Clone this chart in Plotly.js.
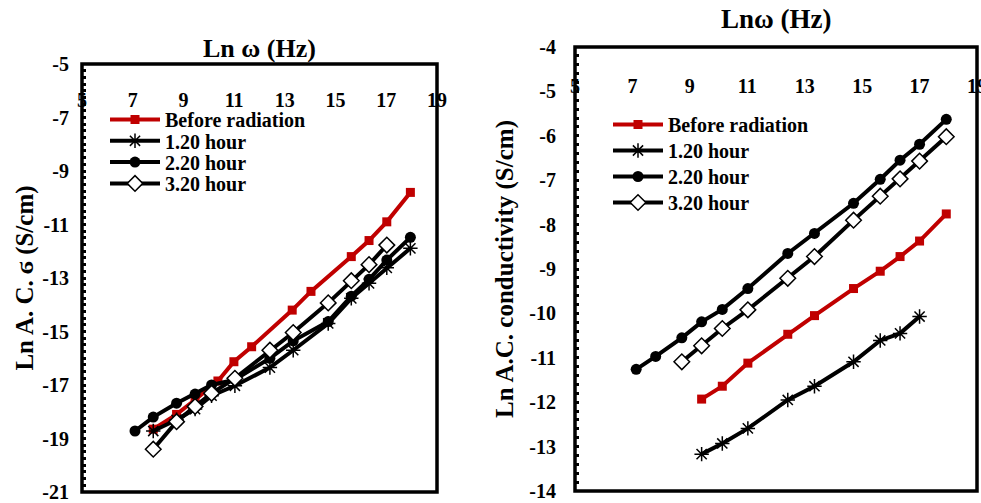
<!DOCTYPE html>
<html>
<head>
<meta charset="utf-8">
<script src="https://cdn.plot.ly/plotly-3.0.1.min.js"></script>
<style>html,body{margin:0;padding:0;background:#fff;}#chart{width:981px;height:503px;}</style>
</head>
<body>
<div id="chart"></div>
<script>
// ---- Data ----
const seriesNames = ["Before radiation", "1.20 hour", "2.20 hour", "3.20 hour"];

// Left chart: Ln A.C. σ vs Ln ω
const leftBeforeX = [7.81, 8.73, 9.46, 10.36, 10.99, 11.69, 13.29, 14.03, 15.62, 16.32, 17.02, 17.95];
const leftBeforeY = [-18.65, -18.1, -17.55, -16.85, -16.13, -15.57, -14.2, -13.5, -12.2, -11.6, -10.9, -9.8];
const left120X = [7.81, 8.73, 9.46, 10.11, 11.03, 12.41, 13.33, 14.71, 15.62, 16.32, 17.02, 17.95];
const left120Y = [-18.72, -18.3, -17.9, -17.4, -17.03, -16.35, -15.7, -14.7, -13.76, -13.2, -12.62, -11.89];
const left220X = [7.09, 7.81, 8.73, 9.46, 10.11, 11.03, 12.41, 13.33, 14.71, 15.62, 16.32, 17.02, 17.95];
const left220Y = [-18.72, -18.2, -17.68, -17.34, -17.0, -16.8, -16.0, -15.35, -14.63, -13.68, -13.05, -12.33, -11.48];
const left320X = [7.81, 8.73, 9.46, 10.11, 11.03, 12.41, 13.33, 14.71, 15.62, 16.32, 17.02];
const left320Y = [-19.4, -18.37, -17.8, -17.31, -16.75, -15.7, -15.04, -13.93, -13.1, -12.5, -11.77];

// Right chart: Ln A.C. conductivity vs Ln ω
const rightBeforeX = [9.41, 10.13, 11.02, 12.41, 13.34, 14.7, 15.63, 16.32, 17.0, 17.93];
const rightBeforeY = [-11.93, -11.64, -11.12, -10.47, -10.05, -9.44, -9.05, -8.72, -8.37, -7.76];
const right120X = [9.41, 10.13, 11.02, 12.41, 13.34, 14.7, 15.63, 16.32, 17.0];
const right120Y = [-13.17, -12.93, -12.59, -11.95, -11.64, -11.09, -10.61, -10.45, -10.07];
const right220X = [7.13, 7.81, 8.72, 9.41, 10.13, 11.02, 12.41, 13.34, 14.7, 15.63, 16.32, 17.0, 17.93];
const right220Y = [-11.26, -10.97, -10.55, -10.19, -9.91, -9.44, -8.65, -8.2, -7.52, -6.98, -6.55, -6.19, -5.63];
const right320X = [8.72, 9.41, 10.13, 11.02, 12.41, 13.34, 14.7, 15.63, 16.32, 17.0, 17.93];
const right320Y = [-11.09, -10.73, -10.34, -9.92, -9.21, -8.72, -7.9, -7.36, -6.97, -6.57, -6.02];

// Tick values and labels
const xTickVals = [5, 7, 9, 11, 13, 15, 17, 19];
const xTickText = ["5", "7", "9", "11", "13", "15", "17", "19"];
const leftYTickVals = [-21, -19, -17, -15, -13, -11, -9, -7, -5];
const leftYTickText = ["-21", "-19", "-17", "-15", "-13", "-11", "-9", "-7", "-5"];
const rightYTickVals = [-14, -13, -12, -11, -10, -9, -8, -7, -6, -5, -4];
const rightYTickText = ["-14", "-13", "-12", "-11", "-10", "-9", "-8", "-7", "-6", "-5", "-4"];

const leftXTitle = "Ln ω (Hz)";
const leftYTitle = "Ln A. C. ϭ (S/cm)";
const rightXTitle = "Lnω (Hz)";
const rightYTitle = "Ln A.C. conductivity (S/cm)";

// ---- Styles ----
const RED = "#C00000";
const FONT = "Liberation Serif, Times New Roman, serif";
const styles = [
  {line: {color: RED, width: 4}, marker: {symbol: "square", size: 9, color: RED}},
  {line: {color: "black", width: 4}, marker: {symbol: "asterisk-open", size: 12, color: "black", line: {color: "black", width: 1.5}}},
  {line: {color: "black", width: 4}, marker: {symbol: "circle", size: 11, color: "black"}},
  {line: {color: "black", width: 4}, marker: {symbol: "diamond", size: 12, color: "white", line: {color: "black", width: 1.5}}}
];

function mk(x, y, i, xa, ya, leg) {
  return Object.assign({
    type: "scatter", mode: "lines+markers", x: x, y: y, name: seriesNames[i],
    xaxis: xa, yaxis: ya, legend: leg, cliponaxis: false
  }, JSON.parse(JSON.stringify(styles[i])));
}

const data = [
  mk(leftBeforeX, leftBeforeY, 0, "x", "y", "legend"),
  mk(left120X, left120Y, 1, "x", "y", "legend"),
  mk(left220X, left220Y, 2, "x", "y", "legend"),
  mk(left320X, left320Y, 3, "x", "y", "legend"),
  mk(rightBeforeX, rightBeforeY, 0, "x2", "y2", "legend2"),
  mk(right120X, right120Y, 1, "x2", "y2", "legend2"),
  mk(right220X, right220Y, 2, "x2", "y2", "legend2"),
  mk(right320X, right320Y, 3, "x2", "y2", "legend2")
];

const tickFont = {family: FONT, size: 20, color: "black", weight: "bold"};
const yTitleFont = {family: FONT, size: 25, color: "black", weight: "bold"};
const leftXTitleFont = {family: FONT, size: 26, color: "black", weight: "bold"};
const rightXTitleFont = {family: FONT, size: 27, color: "black", weight: "bold"};

// data x-axis: carries only the tick labels, placed inside the plot area
function xLabelAxis(domain, pos) {
  return {
    domain: domain, anchor: "free", position: pos, side: "top", range: [5, 19],
    tickmode: "array", tickvals: xTickVals, ticktext: xTickText,
    showgrid: false, zeroline: false, showline: false, ticks: "",
    ticklabelstandoff: 0, ticklabeloverflow: "allow", tickfont: tickFont, fixedrange: true
  };
}
// overlay x-axis on the top border: tick marks
function xTickAxis(domain, over, anchor) {
  return {
    domain: domain, overlaying: over, anchor: anchor, side: "top", range: [5, 19],
    tickmode: "linear", tick0: 5, dtick: 2, showticklabels: false,
    showgrid: false, zeroline: false, showline: false,
    ticks: "inside", ticklen: 4, tickwidth: 2.5, tickcolor: "black",
    minor: {ticks: "inside", ticklen: 4, tickwidth: 2.5, tickcolor: "black", tickmode: "linear", tick0: 5, dtick: 0.4, showgrid: false},
    fixedrange: true
  };
}
function yAxis(domain, anchor, range, vals, texts, minorDt, title, labelOff, standoff) {
  return {
    domain: domain, anchor: anchor, range: range,
    tickmode: "array", tickvals: vals, ticktext: texts,
    showgrid: false, zeroline: false, showline: false,
    ticks: "inside", ticklen: 4, tickwidth: 3, tickcolor: "black",
    ticklabelstandoff: labelOff,
    minor: {ticks: "inside", ticklen: 4, tickwidth: 3, tickcolor: "black", tickmode: "linear", tick0: range[0], dtick: minorDt, showgrid: false},
    tickfont: tickFont,
    title: {text: title, font: yTitleFont, standoff: standoff},
    fixedrange: true
  };
}

const legendCommon = {
  xanchor: "left", yanchor: "top", bgcolor: "rgba(0,0,0,0)", borderwidth: 0,
  font: {family: FONT, size: 20, color: "black", weight: "bold"},
  itemwidth: 50, tracegroupgap: 0, itemclick: false, itemdoubleclick: false
};

const leftDomX = [82/981, 437/981], leftDomY = [1-492/503, 1-64/503];
const rightDomX = [575/981, 977/981], rightDomY = [1-491/503, 1-47/503];

const layout = {
  width: 981, height: 503,
  margin: {l: 0, r: 0, t: 0, b: 0},
  paper_bgcolor: "white", plot_bgcolor: "white",
  showlegend: true,
  xaxis: xLabelAxis(leftDomX, 1-111/503),
  xaxis3: xTickAxis(leftDomX, "x", "y"),
  yaxis: yAxis(leftDomY, "x", [-21, -5], leftYTickVals, leftYTickText, 0.25, leftYTitle, 12, 1),
  xaxis2: xLabelAxis(rightDomX, 1-97/503),
  xaxis4: xTickAxis(rightDomX, "x2", "y2"),
  yaxis2: yAxis(rightDomY, "x2", [-14, -4], rightYTickVals, rightYTickText, 0.2, rightYTitle, 18, 8),
  legend: Object.assign({x: 105/981, y: 1-100/503}, legendCommon),
  legend2: Object.assign({x: 608/981, y: 1-105/503}, legendCommon),
  annotations: [
    {text: leftXTitle, xref: "x domain", yref: "paper", x: 0.5, y: 1-48/503, xanchor: "center", yanchor: "middle", showarrow: false, font: leftXTitleFont},
    {text: rightXTitle, xref: "x2 domain", yref: "paper", x: 0.5, y: 1-19/503, xanchor: "center", yanchor: "middle", showarrow: false, font: rightXTitleFont}
  ],
  shapes: [
    {type: "rect", xref: "x domain", yref: "y domain", x0: 0, x1: 1, y0: 0, y1: 1, line: {color: "black", width: 3.5}, layer: "above"},
    {type: "rect", xref: "x2 domain", yref: "y2 domain", x0: 0, x1: 1, y0: 0, y1: 1, line: {color: "black", width: 3.5}, layer: "above"}
  ]
};

Plotly.newPlot("chart", data, layout, {displayModeBar: false, staticPlot: true}).then(function (gd) {
  // tighten legend row spacing to match the reference
  function tighten(cls, spacing) {
    const items = gd.querySelectorAll("g." + cls + " g.traces");
    if (!items.length) return;
    const m = /translate\(([-\d.]+)[ ,]+([-\d.]+)\)/.exec(items[0].getAttribute("transform") || "");
    if (!m) return;
    const x0 = parseFloat(m[1]), y0 = parseFloat(m[2]);
    items.forEach(function (el, i) {
      el.setAttribute("transform", "translate(" + x0 + "," + (y0 + i * spacing) + ")");
    });
  }
  tighten("legend", 21.3);
  tighten("legend2", 26);
});
</script>
</body>
</html>
